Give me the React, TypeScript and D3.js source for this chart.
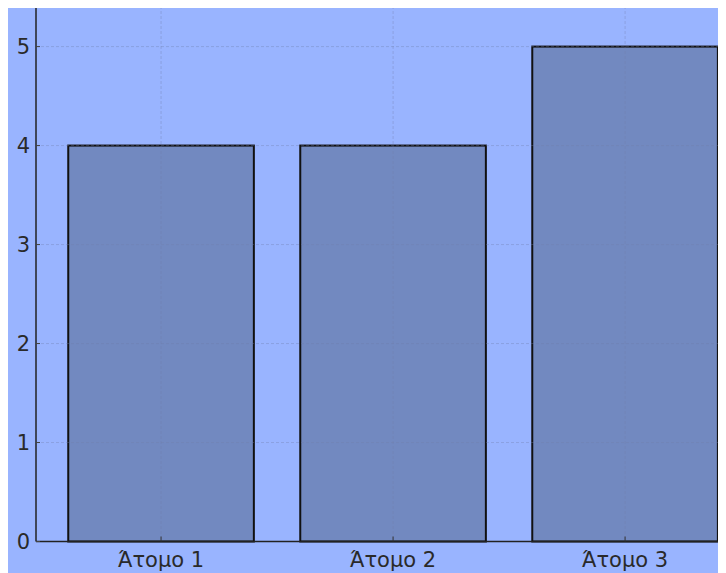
import React, { useEffect, useRef } from 'react';
import * as d3 from 'd3';

const categories = ['Άτομο 1', 'Άτομο 2', 'Άτομο 3'];
const values = [4, 4, 5];
const yTicks = [0, 1, 2, 3, 4, 5];

const width = 718;
const height = 567;
const marginLeft = 28;
const marginBottom = 31.5;

const App: React.FC = () => {
  const svgRef = useRef<SVGSVGElement>(null);

  useEffect(() => {
    if (!svgRef.current) return;
    const svg = d3.select(svgRef.current);
    svg.selectAll('*').remove();

    const plotBottom = height - marginBottom;

    const x = d3.scaleLinear().domain([-0.539, 2.435]).range([marginLeft, width]);
    const y = d3.scaleLinear().domain([0, 5.41]).range([plotBottom, 0]);
    const barW = x(0.8) - x(0);

    // background
    svg.append('rect')
      .attr('width', width)
      .attr('height', height)
      .attr('fill', '#99b4ff');

    // bars
    svg.selectAll('.bar')
      .data(values)
      .enter()
      .append('rect')
      .attr('class', 'bar')
      .attr('x', (_, i) => x(i) - barW / 2)
      .attr('y', d => y(d))
      .attr('width', barW)
      .attr('height', d => plotBottom - y(d))
      .attr('fill', '#7289c0')
      .attr('stroke', '#111')
      .attr('stroke-width', 2);

    // grid
    const grid = svg.append('g')
      .attr('stroke', '#6f7fa8')
      .attr('stroke-opacity', 0.35)
      .attr('stroke-width', 1)
      .attr('stroke-dasharray', '3,2');
    grid.selectAll('.hg')
      .data(yTicks.slice(1))
      .enter()
      .append('line')
      .attr('x1', marginLeft)
      .attr('x2', width)
      .attr('y1', d => y(d))
      .attr('y2', d => y(d));
    grid.selectAll('.vg')
      .data(categories)
      .enter()
      .append('line')
      .attr('x1', (_, i) => x(i))
      .attr('x2', (_, i) => x(i))
      .attr('y1', 0)
      .attr('y2', plotBottom);

    // spines
    svg.append('line')
      .attr('x1', marginLeft)
      .attr('x2', marginLeft)
      .attr('y1', 0)
      .attr('y2', plotBottom)
      .attr('stroke', '#222')
      .attr('stroke-width', 1.5);
    svg.append('line')
      .attr('x1', marginLeft)
      .attr('x2', width)
      .attr('y1', plotBottom)
      .attr('y2', plotBottom)
      .attr('stroke', '#222')
      .attr('stroke-width', 1.5);

    // y ticks
    const yt = svg.append('g');
    yt.selectAll('line')
      .data(yTicks)
      .enter()
      .append('line')
      .attr('x1', marginLeft)
      .attr('x2', marginLeft + 4)
      .attr('y1', d => y(d))
      .attr('y2', d => y(d))
      .attr('stroke', '#444');
    yt.selectAll('text')
      .data(yTicks)
      .enter()
      .append('text')
      .attr('x', marginLeft - 6)
      .attr('y', d => y(d))
      .attr('dy', '0.36em')
      .attr('text-anchor', 'end')
      .attr('font-family', 'DejaVu Sans')
      .attr('font-size', 21)
      .attr('fill', '#2a2a2a')
      .text(d => String(d));

    // x ticks
    const xt = svg.append('g');
    xt.selectAll('line')
      .data(categories)
      .enter()
      .append('line')
      .attr('x1', (_, i) => x(i))
      .attr('x2', (_, i) => x(i))
      .attr('y1', plotBottom)
      .attr('y2', plotBottom - 5)
      .attr('stroke', '#333');
    xt.selectAll('text')
      .data(categories)
      .enter()
      .append('text')
      .attr('x', (_, i) => x(i))
      .attr('y', plotBottom + 25)
      .attr('text-anchor', 'middle')
      .attr('font-family', 'DejaVu Sans')
      .attr('font-size', 21)
      .attr('fill', '#2a2a2a')
      .text(d => d);
  }, []);

  return (
    <svg
      ref={svgRef}
      width={width}
      height={height}
      style={{ display: 'block', marginTop: -2 }}
    />
  );
};

export default App;
